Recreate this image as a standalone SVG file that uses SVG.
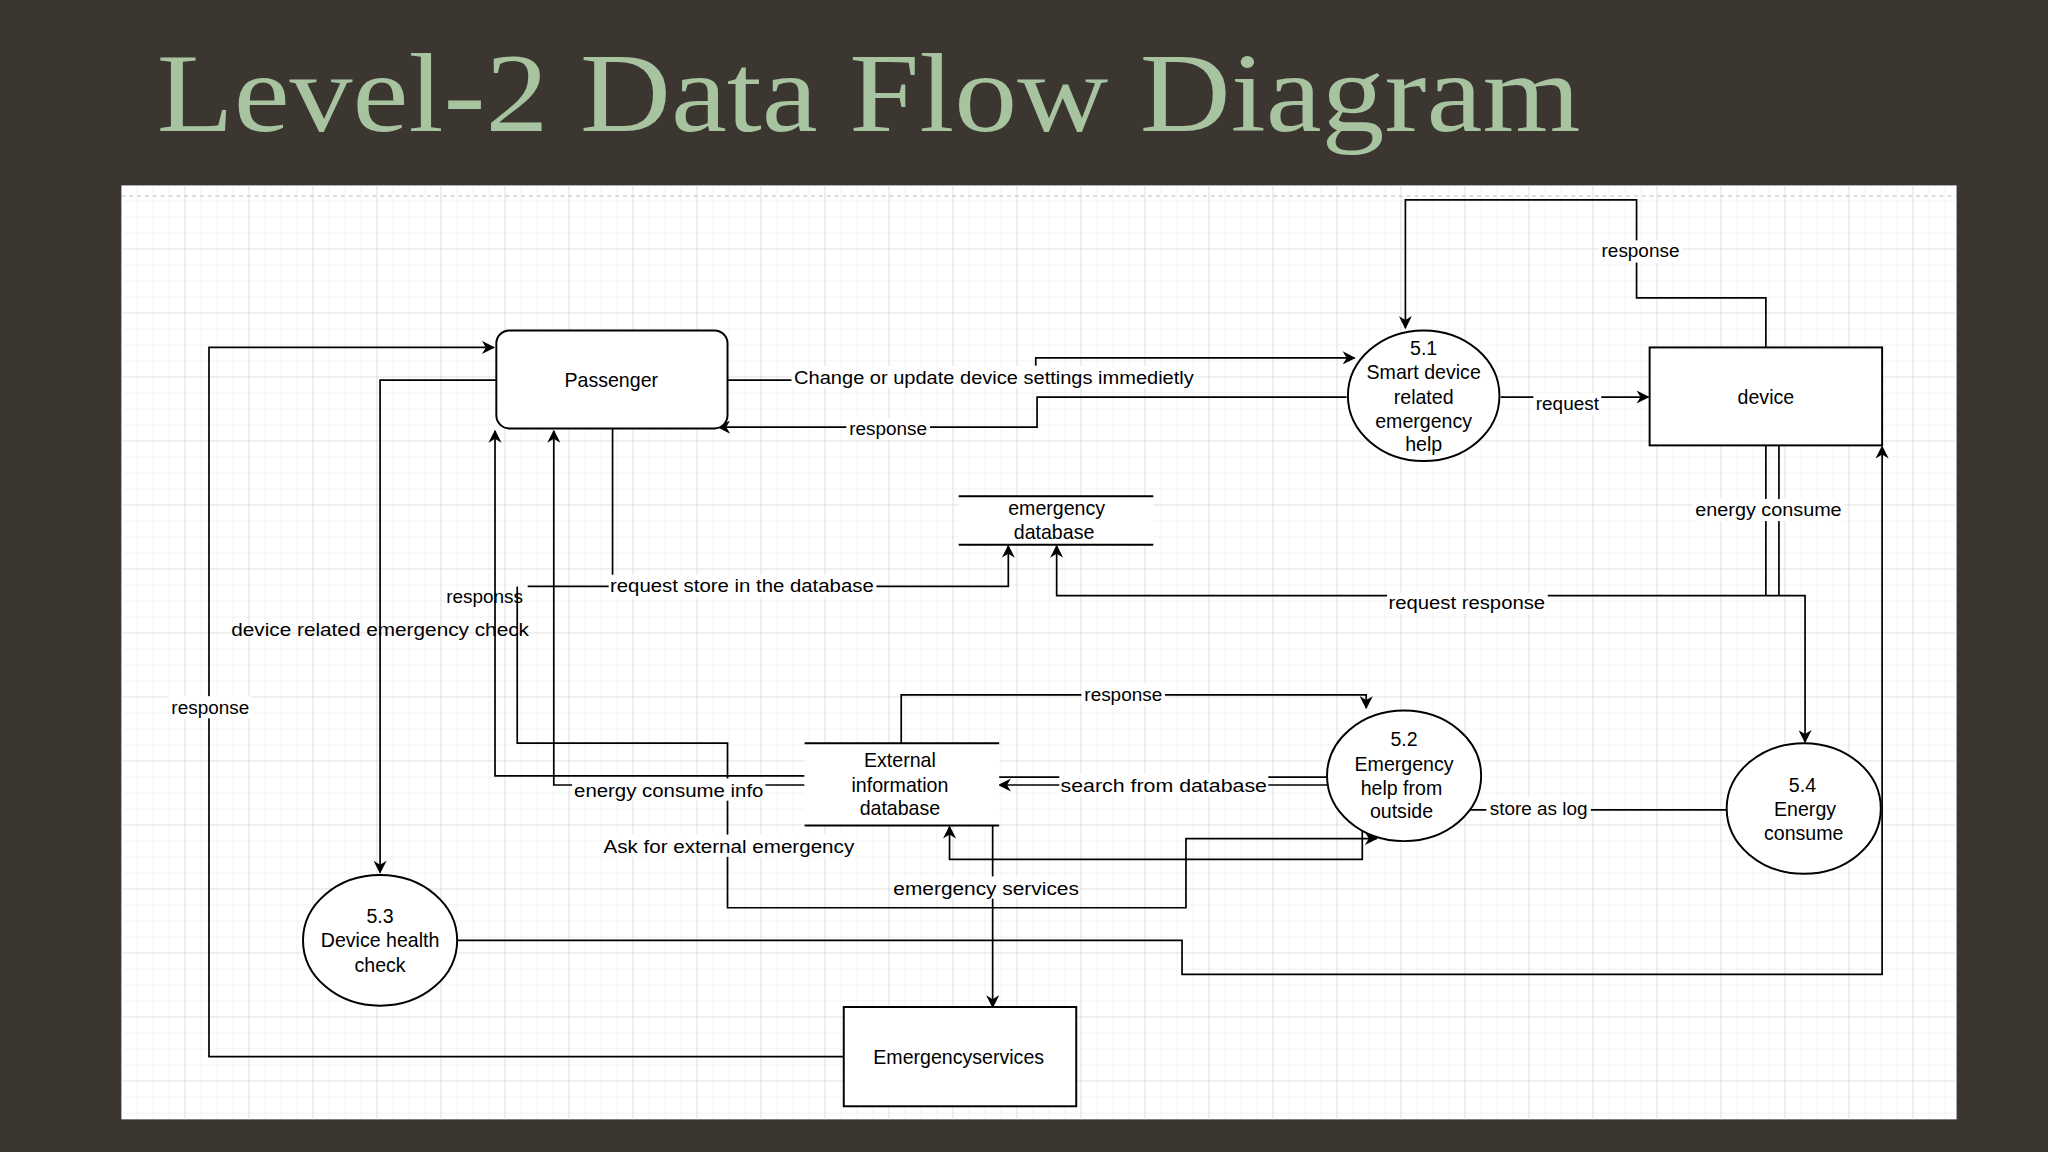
<svg xmlns="http://www.w3.org/2000/svg" width="2048" height="1152" viewBox="0 0 2048 1152">
<defs>
<pattern id="g" width="12.25" height="12.25" patternUnits="userSpaceOnUse" x="93" y="142"><path d="M12.25 0V12.25H0" fill="none" stroke="#e2e2e2" stroke-width="0.6"/></pattern>
<pattern id="G" width="49" height="49" patternUnits="userSpaceOnUse" x="93" y="142"><path d="M49 0V49H0" fill="none" stroke="#d4d4d4" stroke-width="0.9"/></pattern>
<marker id="a" viewBox="0 0 10 10" refX="9" refY="5" markerWidth="11" markerHeight="10" orient="auto-start-reverse" markerUnits="userSpaceOnUse" ><path d="M0,0 L10,5 L0,10 L3,5 z" fill="#000"/></marker>
<style>
.n{fill:#fff;stroke:#000;stroke-width:1.5}
.t{font-family:"Liberation Sans",Arial,sans-serif;font-size:15px;fill:#000;text-anchor:middle}
.l{font-family:"Liberation Sans",Arial,sans-serif;font-size:14.5px;fill:#000;text-anchor:middle}
.c path{fill:none;stroke:#000;stroke-width:1.3}
.bg{fill:#fff}
</style>
</defs>
<rect width="2048" height="1152" fill="#3b3630"/>
<g transform="scale(1.30612)">
<text x="120" y="100" font-family="Liberation Serif,serif" font-size="86" fill="#a8c3a0" textLength="1090" lengthAdjust="spacingAndGlyphs">Level-2 Data Flow Diagram</text>
<rect x="93" y="142" width="1405" height="715" fill="#fff"/>
<rect x="93" y="142" width="1405" height="715" fill="url(#g)"/>
<rect x="93" y="142" width="1405" height="715" fill="url(#G)"/>
<line x1="93" y1="150" x2="1498" y2="150" stroke="#bbb" stroke-dasharray="3,3" stroke-width="0.8"/>

<g class="c" id="connectors">
<path d="M557,291 H793 V274 H1037" marker-end="url(#a)"/>
<path d="M1031,304 H794 V327 H550" marker-end="url(#a)"/>
<path d="M1149,304 H1262" marker-end="url(#a)"/>
<path d="M1352,266 V228 H1253 V153 H1076 V251" marker-end="url(#a)"/>
<path d="M1352,341 V456 M1362,341 V456"/>
<path d="M1352,456 H1382 V568" marker-end="url(#a)"/>
<path d="M1352,456 H809 V418" marker-end="url(#a)"/>
<path d="M350,720 H905 V746 H1441 V342" marker-end="url(#a)"/>
<path d="M469,328 V449"/>
<path d="M404,449 H772 V418" marker-end="url(#a)"/>
<path d="M396,449 V569 H557 V695 H908 V642 H1054" marker-end="url(#a)"/>
<path d="M616,594 H379 V330" marker-end="url(#a)"/>
<path d="M616,601 H424 V330" marker-end="url(#a)"/>
<path d="M380,291 H291 V668" marker-end="url(#a)"/>
<path d="M646,809 H160 V266 H378" marker-end="url(#a)"/>
<path d="M690,569 V532 H1046 V542" marker-end="url(#a)"/>
<path d="M1016,601 H765" marker-end="url(#a)"/>
<path d="M1016,595 H760 V771" marker-end="url(#a)"/>
<path d="M1322,620 H1043 V658 H727 V633" marker-end="url(#a)"/>
</g>

<g id="labels">
<rect class="bg" x="606" y="280" width="310" height="17"/><text class="l" x="761" y="294" textLength="306" lengthAdjust="spacingAndGlyphs">Change or update device settings immedietly</text>
<rect class="bg" x="648" y="320" width="64" height="17"/><text class="l" x="680" y="333">response</text>
<rect class="bg" x="1174" y="301" width="52" height="17"/><text class="l" x="1200" y="314">request</text>
<rect class="bg" x="1224" y="184" width="64" height="17"/><text class="l" x="1256" y="197">response</text>
<rect class="bg" x="1296" y="382" width="116" height="17"/><text class="l" x="1354" y="395" textLength="112" lengthAdjust="spacingAndGlyphs">energy consume</text>
<rect class="bg" x="1062" y="453" width="123" height="17"/><text class="l" x="1123" y="466" textLength="120" lengthAdjust="spacingAndGlyphs">request response</text>
<rect class="bg" x="466" y="440" width="205" height="17"/><text class="l" x="568" y="453" textLength="202" lengthAdjust="spacingAndGlyphs">request store in the database</text>
<text class="l" x="371" y="462">responss</text>
<text class="l" x="291" y="487" textLength="228" lengthAdjust="spacingAndGlyphs">device related emergency check</text>
<rect class="bg" x="129" y="533" width="64" height="17"/><text class="l" x="161" y="547">response</text>
<rect class="bg" x="828" y="523" width="64" height="17"/><text class="l" x="860" y="537">response</text>
<rect class="bg" x="438" y="596" width="148" height="17"/><text class="l" x="512" y="610" textLength="145" lengthAdjust="spacingAndGlyphs">energy consume info</text>
<rect class="bg" x="811" y="592" width="160" height="17"/><text class="l" x="891" y="606" textLength="158" lengthAdjust="spacingAndGlyphs">search from database</text>
<rect class="bg" x="461" y="639" width="194" height="17"/><text class="l" x="558" y="653" textLength="192" lengthAdjust="spacingAndGlyphs">Ask for external emergency</text>
<rect class="bg" x="683" y="671" width="144" height="17"/><text class="l" x="755" y="685" textLength="142" lengthAdjust="spacingAndGlyphs">emergency services</text>
<rect class="bg" x="1138" y="610" width="80" height="17"/><text class="l" x="1178" y="624">store as log</text>
</g>

<g id="passenger"><rect class="n" x="380" y="253" width="177" height="75" rx="10"/><text class="t" x="468" y="296">Passenger</text></g>
<g id="p51"><ellipse class="n" cx="1090" cy="303" rx="58" ry="50"/><text class="t" x="1090" y="272">5.1</text><text class="t" x="1090" y="290">Smart device</text><text class="t" x="1090" y="309">related</text><text class="t" x="1090" y="328">emergency</text><text class="t" x="1090" y="345">help</text></g>
<g id="device"><rect class="n" x="1263" y="266" width="178" height="75"/><text class="t" x="1352" y="309">device</text></g>
<g id="edb"><rect x="734" y="380" width="149" height="37" fill="#fff"/><path d="M734,380 H883 M734,417 H883" stroke="#000" stroke-width="1.5"/><text class="t" x="809" y="394">emergency</text><text class="t" x="807" y="413">database</text></g>
<g id="xdb"><rect x="616" y="569" width="149" height="63" fill="#fff"/><path d="M616,569 H765 M616,632 H765" stroke="#000" stroke-width="1.5"/><text class="t" x="689" y="587">External</text><text class="t" x="689" y="606">information</text><text class="t" x="689" y="624">database</text></g>
<g id="p52"><ellipse class="n" cx="1075" cy="594" rx="59" ry="50"/><text class="t" x="1075" y="571">5.2</text><text class="t" x="1075" y="590">Emergency</text><text class="t" x="1073" y="609">help from</text><text class="t" x="1073" y="626">outside</text></g>
<g id="p54"><ellipse class="n" cx="1381" cy="619" rx="59" ry="50"/><text class="t" x="1380" y="606">5.4</text><text class="t" x="1382" y="625">Energy</text><text class="t" x="1381" y="643">consume</text></g>
<g id="p53"><ellipse class="n" cx="291" cy="720" rx="59" ry="50"/><text class="t" x="291" y="707">5.3</text><text class="t" x="291" y="725">Device health</text><text class="t" x="291" y="744">check</text></g>
<g id="es"><rect class="n" x="646" y="771" width="178" height="76"/><text class="t" x="734" y="815">Emergencyservices</text></g>
</g>
</svg>
